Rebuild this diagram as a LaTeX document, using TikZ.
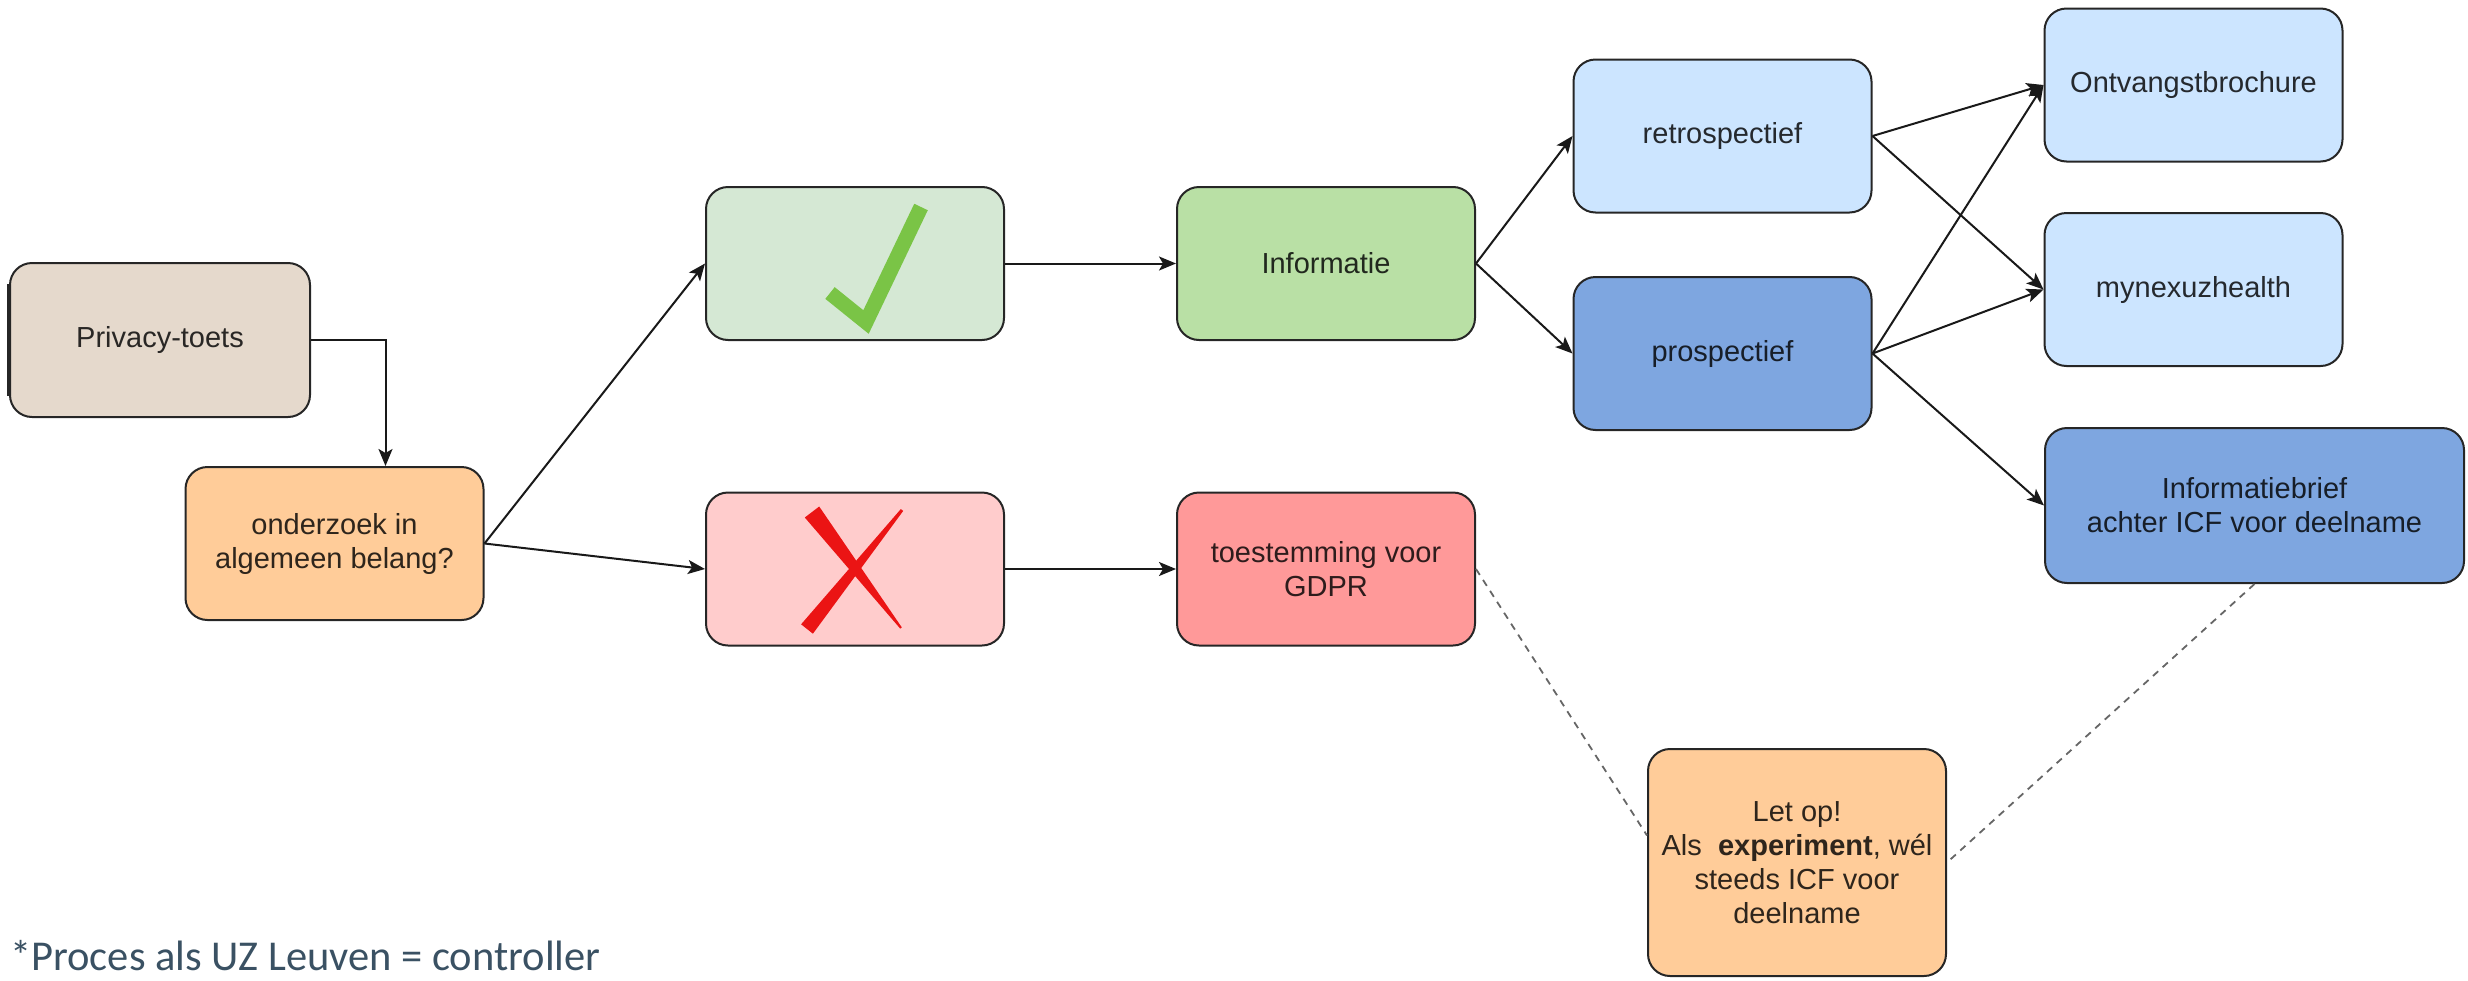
\documentclass[tikz,border=0pt]{standalone}
\usepackage{fontspec}
\setmainfont{Liberation Sans}
\newfontfamily\footfont{Carlito}
\usetikzlibrary{arrows.meta,calc}
\definecolor{cPriv}{HTML}{E5D9CC}
\definecolor{cOnd}{HTML}{FFCC99}
\definecolor{cChk}{HTML}{D5E8D4}
\definecolor{cInfo}{HTML}{B9E0A5}
\definecolor{cX}{HTML}{FFCCCC}
\definecolor{cGdpr}{HTML}{FF9999}
\definecolor{cLight}{HTML}{CCE5FF}
\definecolor{cDark}{HTML}{7EA6E0}
\definecolor{cGreenMark}{HTML}{7AC446}
\definecolor{cRedMark}{HTML}{EB1414}
\definecolor{cFoot}{HTML}{3A5163}
\begin{document}
\begin{tikzpicture}[x=1pt,y=-1pt,
  box/.style={draw=black!85, line width=2pt, rounded corners=22pt,
    minimum width=298pt, minimum height=153pt, inner sep=0pt, align=center,
    fill=#1, text=#1!18!black, font=\fontsize{29}{34}\selectfont},
  arr/.style={draw=black!90, line width=2pt, -{Stealth[length=17pt,width=14pt,inset=4pt]}},
  dashline/.style={draw=black!60, line width=1.8pt, dash pattern=on 7pt off 6pt}]
\useasboundingbox (0,0) rectangle (2468,980);

\node[box=cPriv, minimum width=300pt, minimum height=154pt] (priv) at (160,340) {Privacy-toets};
\node[box=cOnd] (ond) at (334.5,543.5) {onderzoek in\\algemeen belang?};
\node[box=cChk] (chk) at (855,263.5) {};
\node[box=cX] (xx) at (855,569) {};
\node[box=cInfo] (info) at (1326,263.5) {Informatie};
\node[box=cGdpr] (gdpr) at (1326,569) {toestemming voor\\GDPR};
\node[box=cLight] (retro) at (1722.5,136) {retrospectief};
\node[box=cDark] (prosp) at (1722.5,353.5) {prospectief};
\node[box=cLight] (ontv) at (2193.5,85) {Ontvangstbrochure};
\node[box=cLight] (myn) at (2193.5,289.5) {mynexuzhealth};
\node[box=cDark, minimum width=419pt, minimum height=155pt] (ibrief) at (2254.5,505.5) {Informatiebrief\\achter ICF voor deelname};
\node[box=cOnd, minimum height=227pt] (letop) at (1797,862.5) {Let op!\\Als\ \ \textbf{experiment}, wél\\steeds ICF voor\\deelname};

% thicker left edge of Privacy box
\draw[line width=4pt, black!85] ([yshift=-22pt]priv.north west) -- ([yshift=22pt]priv.south west);

% check mark
\draw[cGreenMark, line width=15pt, line join=miter, line cap=butt] (830,293) -- (866,322) -- (921,207);
% red cross
\fill[cRedMark, line join=round] (819.2,506.5) -- (804.8,517.5) -- (900.2,628.6) -- (901.8,627.4) -- cycle;
\fill[cRedMark, line join=round] (903.2,510.9) -- (900.8,509.1) -- (801.1,624.3) -- (812.9,633.7) -- cycle;

% connectors
\draw[arr] (priv.east) -| ([xshift=51pt]ond.north);
\draw[arr] (ond.east) -- (chk.west);
\draw[arr] (ond.east) -- (xx.west);
\draw[arr] (chk.east) -- (info.west);
\draw[arr] (xx.east) -- (gdpr.west);
\draw[arr] (info.east) -- (retro.west);
\draw[arr] (info.east) -- (prosp.west);
\draw[arr] (retro.east) -- (ontv.west);
\draw[arr] (retro.east) -- (myn.west);
\draw[arr] (prosp.east) -- (ontv.west);
\draw[arr] (prosp.east) -- (myn.west);
\draw[arr] (prosp.east) -- (ibrief.west);

\draw[dashline] (gdpr.east) -- ($(letop.west)+(0,-27)$);
\draw[dashline] (ibrief.south) -- (letop.east);

\node[anchor=base west, inner sep=0pt, text=cFoot, font=\footfont\fontsize{42.5}{50}\selectfont] (foot) at (10,970) {*Proces als UZ Leuven = controller};
\end{tikzpicture}
\end{document}
